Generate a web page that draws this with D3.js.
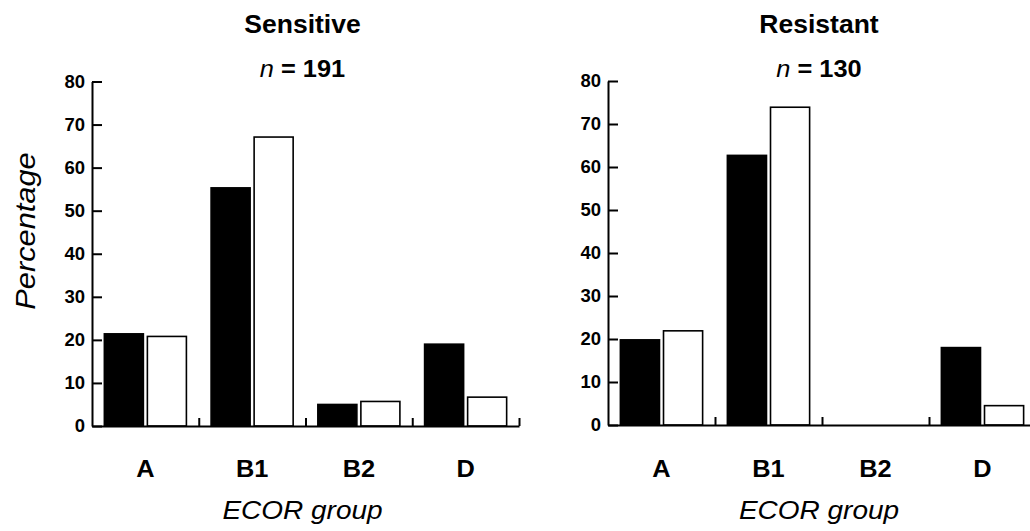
<!DOCTYPE html>
<html>
<head>
<meta charset="utf-8">
<script src="https://cdn.jsdelivr.net/npm/d3@7"></script>
<style>
body { margin: 0; background: #fff; }
svg { display: block; font-family: "Liberation Sans", Arial, Helvetica, sans-serif; }
</style>
</head>
<body>
<svg width="1030" height="531"></svg>
<script>
'use strict';

// data
var categories = ['A', 'B1', 'B2', 'D'];
var series = ['filled', 'open'];
var yTickValues = [0, 10, 20, 30, 40, 50, 60, 70, 80];
var sensitiveFilled = [21.4, 55.3, 5.0, 19.0];
var sensitiveOpen = [20.8, 67.1, 5.7, 6.7];
var resistantFilled = [19.8, 62.7, 0, 18.0];
var resistantOpen = [21.9, 73.9, 0, 4.5];
var panelTitles = ['Sensitive', 'Resistant'];
var panelCounts = ['191', '130'];

var svg = d3.select('svg');

var panels = [
    {left: 92, top: 81.5, bottom: 426, width: 427, filled: sensitiveFilled, open: sensitiveOpen},
    {left: 608, top: 81, bottom: 425, width: 428, filled: resistantFilled, open: resistantOpen}
];

// sx widens the glyphs a little, the printed font runs wider than Liberation Sans
function label(g, x, y, str, size, weight, style, sx) {
    return g.append('text')
        .attr('transform', 'translate(' + x + ',' + y + ') scale(' + sx + ',1)')
        .attr('text-anchor', 'middle')
        .attr('font-size', size + 'px')
        .attr('font-weight', weight)
        .attr('font-style', style)
        .attr('fill', '#000')
        .text(str);
}

panels.forEach(function(p, pi) {
    var g = svg.append('g').attr('transform', 'translate(' + p.left + ',0)');

    var y = d3.scaleLinear().domain([0, 80]).range([p.bottom, p.top]);
    var x = d3.scaleBand().domain(categories).range([0, p.width]).padding(0);
    var xs = d3.scaleBand().domain(series).range([0, x.bandwidth()])
        .paddingInner(0.093).paddingOuter(0.287);
    var xEdge = d3.scaleLinear().domain([0, categories.length]).range([0, p.width]);

    // bars
    var rows = categories.map(function(c, i) {
        return [{cat: c, s: 'filled', v: p.filled[i]}, {cat: c, s: 'open', v: p.open[i]}];
    });
    g.append('g').selectAll('rect')
        .data(d3.merge(rows).filter(function(d) { return d.v > 0; }))
        .enter()
        .append('rect')
        .attr('x', function(d) { return x(d.cat) + xs(d.s); })
        .attr('y', function(d) { return y(d.v); })
        .attr('width', xs.bandwidth())
        .attr('height', function(d) { return p.bottom - y(d.v); })
        .attr('fill', function(d) { return d.s == 'filled' ? '#000' : '#fff'; })
        .attr('stroke', '#000')
        .attr('stroke-width', 1.6);

    // y axis, ticks point inward
    var yAxis = g.append('g')
        .call(d3.axisLeft(y).tickValues(yTickValues).tickSizeInner(-10).tickSizeOuter(0).tickPadding(7));
    yAxis.select('.domain').attr('stroke-width', 2);
    yAxis.selectAll('.tick line').attr('stroke-width', 2);
    yAxis.selectAll('.tick text')
        .attr('font-size', '18.5px')
        .attr('font-weight', 'bold')
        .attr('font-family', null);

    // x axis, short upward ticks between groups
    var xAxis = g.append('g')
        .attr('transform', 'translate(0,' + p.bottom + ')')
        .call(d3.axisBottom(xEdge).tickValues([1, 2, 3, 4]).tickSizeInner(-8).tickSizeOuter(0).tickFormat(''));
    xAxis.select('.domain').attr('stroke-width', 2);
    xAxis.selectAll('.tick line').attr('stroke-width', 2);

    categories.forEach(function(c) {
        label(g, x(c) + x.bandwidth() / 2, 476.5, c, 23.5, 'bold', 'normal', 1.08);
    });

    var mid = p.width / 2 - 3;
    label(g, mid, 519, 'ECOR group', 25, 'normal', 'italic', 1.12);
    label(g, mid, 33, panelTitles[pi], 25.5, 'bold', 'normal', 1.04);
    var n = label(g, mid, 76.5, '', 23.5, 'bold', 'normal', 1.08);
    n.append('tspan').attr('font-style', 'italic').attr('font-weight', 'normal').text('n');
    n.append('tspan').text(' = ' + panelCounts[pi]);
});

// y axis title
svg.append('text')
    .attr('transform', 'translate(35,231) rotate(-90) scale(1.1,1)')
    .attr('text-anchor', 'middle')
    .attr('font-size', '28px')
    .attr('font-style', 'italic')
    .text('Percentage');
</script>
</body>
</html>
